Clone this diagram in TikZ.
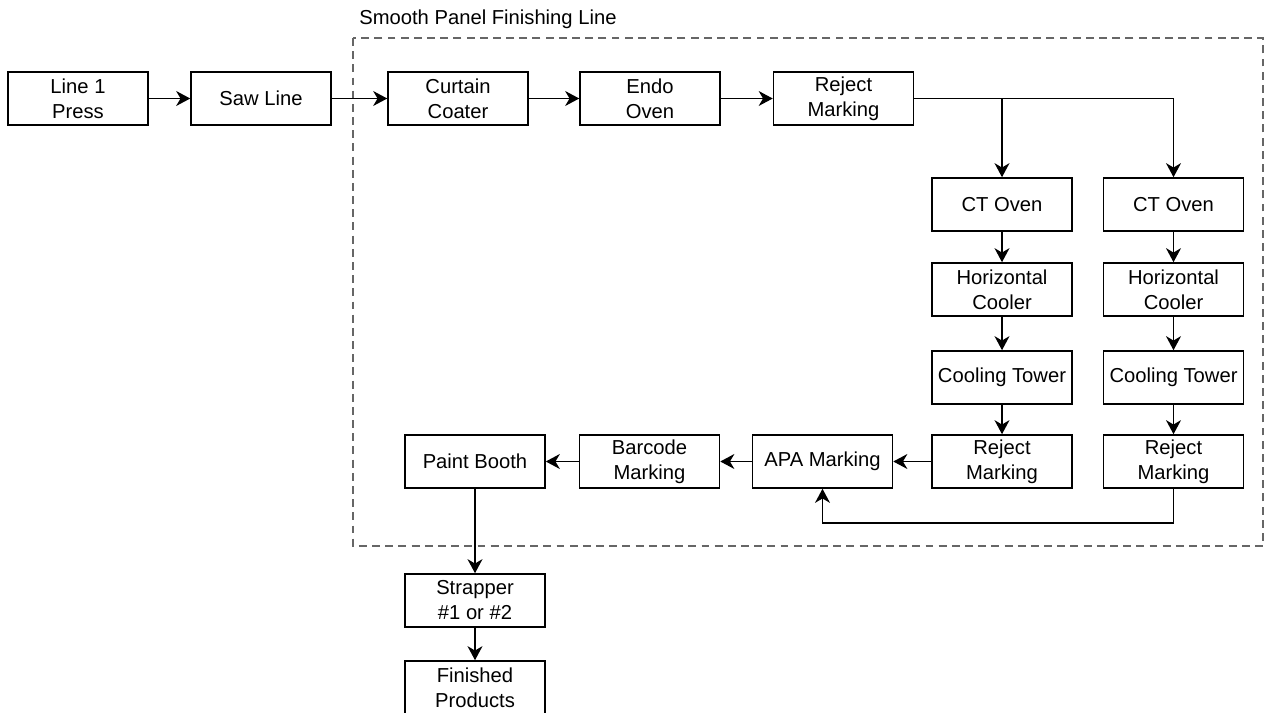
\documentclass[tikz,border=0pt]{standalone}
\usepackage{fontspec}
\setmainfont{Liberation Sans}
\usetikzlibrary{arrows.meta, positioning, calc}

\tikzset{
  stage/.style={draw, line width=0.9pt, minimum width=2.8cm, minimum height=1.06cm,
    inner sep=0pt, align=center, font=\fontsize{11.5}{14.2}\selectfont},
  flow/.style={-{Stealth[length=8pt,width=8.5pt,inset=2.5pt]}, line width=0.9pt},
  plain/.style={line width=0.9pt}
}

\begin{document}
\begin{tikzpicture}[x=0.02cm, y=-0.02cm]
\useasboundingbox (0,0) rectangle (1264,713);
% Finishing line frame
\draw[gray!80!black, dashed, dash pattern=on 4.5pt off 3pt, line width=0.8pt] (353,38) rectangle (1263,546);
\node[anchor=west, inner sep=0pt, font=\fontsize{11.5}{14.2}\selectfont] (title) at (359,19) {Smooth Panel Finishing Line};
% Top row
\node[stage] (press) at (78,98.5) {Line 1\\Press};
\node[stage] (saw) at (261,98.5) {Saw Line};
\node[stage] (coater) at (458,98.5) {Curtain\\Coater};
\node[stage] (endo) at (650,98.5) {Endo\\Oven};
\node[stage] (reject) at (843.5,98.5) {Reject\\Marking};
% Two parallel columns
\node[stage] (ctovenA) at (1002,204.5) {CT Oven};
\node[stage] (ctovenB) at (1173.5,204.5) {CT Oven};
\node[stage] (coolerA) at (1002,289.5) {Horizontal\\Cooler};
\node[stage] (coolerB) at (1173.5,289.5) {Horizontal\\Cooler};
\node[stage] (towerA) at (1002,377.5) {Cooling Tower};
\node[stage] (towerB) at (1173.5,377.5) {Cooling Tower};
\node[stage] (rejectA) at (1002,461.5) {Reject\\Marking};
\node[stage] (rejectB) at (1173.5,461.5) {Reject\\Marking};
% Bottom row
\node[stage] (apa) at (822.5,461.5) {APA Marking};
\node[stage] (barcode) at (649.5,461.5) {Barcode\\Marking};
\node[stage] (paint) at (475,461.5) {Paint Booth};
\node[stage] (strapper) at (475,600.5) {Strapper\\\#1 or \#2};
\node[stage] (finished) at (475,687.5) {Finished\\Products};
% Connectors
\coordinate (split) at (1002,98.5);
\coordinate (back) at (1173.5,523);
\draw[flow] (press) -- (saw);
\draw[flow] (saw) -- (coater);
\draw[flow] (coater) -- (endo);
\draw[flow] (endo) -- (reject);
\draw[plain] (reject.east) -- (split);
\draw[flow] (split) -- (ctovenA);
\draw[flow] (split) -| (ctovenB);
\draw[flow] (ctovenA) -- (coolerA);
\draw[flow] (ctovenB) -- (coolerB);
\draw[flow] (coolerA) -- (towerA);
\draw[flow] (coolerB) -- (towerB);
\draw[flow] (towerA) -- (rejectA);
\draw[flow] (towerB) -- (rejectB);
\draw[plain] (rejectB) -- (back);
\draw[flow] (back) -| (apa);
\draw[flow] (rejectA) -- (apa);
\draw[flow] (apa) -- (barcode);
\draw[flow] (barcode) -- (paint);
\draw[flow] (paint) -- (strapper);
\draw[flow] (strapper) -- (finished);
\end{tikzpicture}
\end{document}
